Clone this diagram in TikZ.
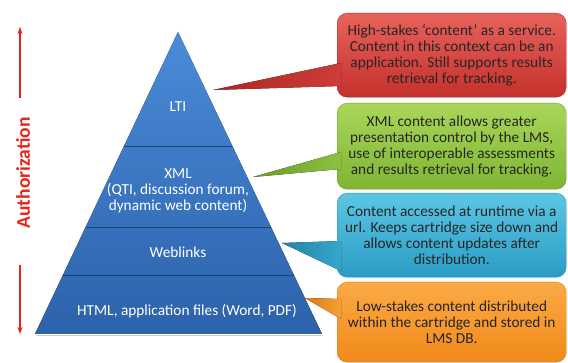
\documentclass[tikz,border=0pt]{standalone}
\usepackage{fontspec}
\setmainfont{Carlito}
\usetikzlibrary{calc,arrows.meta}
\definecolor{pyrtop}{HTML}{4A8BD8}
\definecolor{pyrbot}{HTML}{2C62AA}
\definecolor{pyrline}{HTML}{1E3F70}
\definecolor{authred}{HTML}{E8231C}
\definecolor{notetext}{HTML}{262626}
\definecolor{redtop}{HTML}{E8625C}
\definecolor{redbot}{HTML}{C5302C}
\definecolor{greentop}{HTML}{A9D65A}
\definecolor{greenbot}{HTML}{7FB532}
\definecolor{bluetop}{HTML}{5CC6E4}
\definecolor{bluebot}{HTML}{2A9CC4}
\definecolor{orangetop}{HTML}{FBAA45}
\definecolor{orangebot}{HTML}{F2891A}

\begin{document}
\begin{tikzpicture}[x=1pt, y=-1pt,
  every node/.style={font=\fontsize{15.3}{16}\selectfont, align=center, inner sep=0pt},
  layer/.style={text=white},
  note/.style={anchor=north west, rounded corners=10pt, minimum width=229pt, text=notetext},
  sep/.style={draw=pyrline, line width=0.9pt},
  auth/.style={draw=authred, line width=1.3pt, -{Stealth[length=7pt, width=5pt]}}]
			\useasboundingbox (0,0) rectangle (568,363);

			\coordinate (apex) at (178,32);
			\coordinate (bl) at (35,334);
			\coordinate (br) at (322,334);
			\fill[top color=pyrtop, bottom color=pyrbot] (apex) -- (br) -- (bl) -- cycle;
			\draw[gray!40, line width=1pt] ($(bl)+(1,1.5)$) -- ($(br)+(1,1.5)$);
			\foreach \t in {0.3775,0.6457,0.8046}
				\draw[sep] ($(apex)!\t!(bl)$) -- ($(apex)!\t!(br)$);

			\node[layer] (lti) at (178,107) {LTI};
			\node[layer] (xml) at (178,191) {XML\\(QTI, discussion forum,\\dynamic web content)};
			\node[layer] (web) at (178,252) {Weblinks};
			\node[layer] (html) at (187,311) {HTML, application files (Word, PDF)};

			\node[note, minimum height=84pt, top color=redtop, bottom color=redbot, draw=redbot!90!black] (ltinote) at (337,13)
				{High-stakes `content' as a service.\\Content in this context can be an\\application. Still supports results\\retrieval for tracking.};
			\node[note, minimum height=86pt, top color=greentop, bottom color=greenbot, draw=greenbot!90!black] (xmlnote) at (337,103)
				{XML content allows greater\\presentation control by the LMS,\\use of interoperable assessments\\and results retrieval for tracking.};
			\node[note, minimum height=84pt, top color=bluetop, bottom color=bluebot, draw=bluebot!90!black] (webnote) at (337,193)
				{Content accessed at runtime via a\\url. Keeps cartridge size down and\\allows content updates after\\distribution.};
			\node[note, minimum height=80pt, top color=orangetop, bottom color=orangebot, draw=orangebot!90!black] (htmlnote) at (337,282)
				{Low-stakes content distributed\\within the cartridge and stored in\\LMS DB.};

			\coordinate (ltitip) at (213,90);
			\coordinate (xmltip) at (253,177);
			\coordinate (webtip) at (282,243);
			\coordinate (htmltip) at (305,298);
			\fill[left color=redbot!85!black, right color=redtop!25!redbot] (ltitip) -- (341,63) -- (341,86) -- cycle;
			\fill[left color=greenbot!85!black, right color=greentop!35!greenbot] (xmltip) -- (341,152) -- (341,169) -- cycle;
			\fill[left color=bluebot!85!black, right color=bluetop!25!bluebot] (webtip) -- (341,241) -- (341,271) -- cycle;
			\fill[left color=orangebot!90!black, right color=orangetop!65!orangebot] (htmltip) -- (341,299) -- (341,319) -- cycle;

			\node[rotate=90, text=authred, font=\fontsize{19.5}{22}\selectfont\bfseries] (authtext) at (23,173) {Authorization};
			\coordinate (authtop) at (20,27);
			\coordinate (authbot) at (20,334);
			\draw[auth] (20,98) -- (authtop);
			\draw[auth] (20,265) -- (authbot);
\end{tikzpicture}
\end{document}
